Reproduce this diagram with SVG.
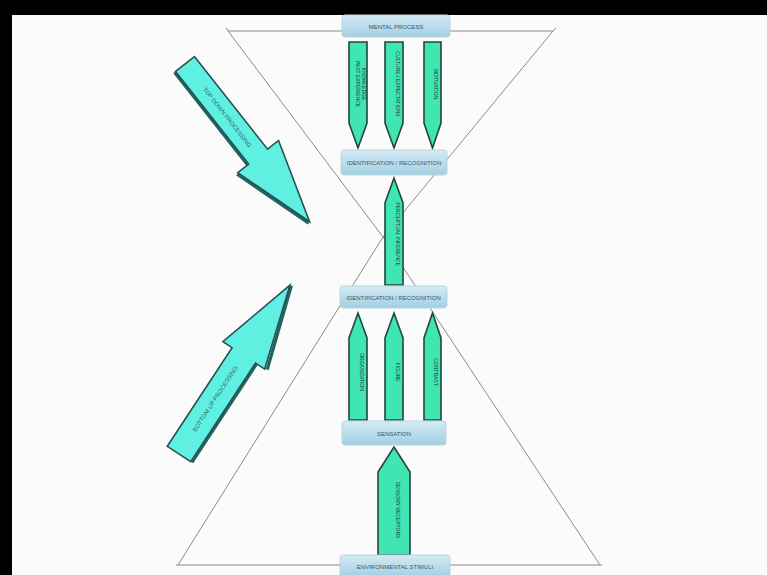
<svg xmlns="http://www.w3.org/2000/svg" width="767" height="575" viewBox="0 0 767 575">
<defs>
<linearGradient id="boxg" x1="0" y1="0" x2="0" y2="1">
<stop offset="0" stop-color="#d4ebf4"/>
<stop offset="1" stop-color="#a2cfe2"/>
</linearGradient>
<style>
.box{fill:url(#boxg);stroke:#b8d6e4;stroke-width:1}
.bt{font-family:"Liberation Sans",Arial,sans-serif;font-size:6px;fill:#3a5468;text-anchor:middle}
.sa{fill:#3fe6b2;stroke:#24453e;stroke-width:1.6;stroke-linejoin:miter}
.st{font-family:"Liberation Sans",Arial,sans-serif;font-size:5px;fill:#1d3a32;text-anchor:middle}
.ba{fill:#5ff0e2;stroke:#2b4f55;stroke-width:1.6}
.bsh{fill:#1f6660}
.at{font-family:"Liberation Sans",Arial,sans-serif;font-size:6px;fill:#2a6470;text-anchor:middle}
.hl{fill:none;stroke:#8a8a8a;stroke-width:1}
</style>
</defs>
<rect x="0" y="0" width="767" height="575" fill="#fbfbfb"/>
<rect x="0" y="0" width="767" height="15" fill="#000"/>
<rect x="0" y="0" width="12" height="575" fill="#000"/>

<g id="hourglass">
<polyline class="hl" points="226,28 228,31 553,31 556,28"/>
<polyline class="hl" points="228,31 383,237 553,31"/>
<polyline class="hl" points="178,565 383,237 600,565"/>
<line class="hl" x1="176" y1="565" x2="602" y2="565"/>
</g>

<g id="connectors">
<g id="top-arrows">
<polygon class="sa" points="349,42 367,42 367,123 358,148 349,123"/>
<text class="st" transform="translate(356,84) rotate(90)">PAST EXPERIENCE</text>
<text class="st" transform="translate(362,84) rotate(90)">KNOWLEDGE</text>
<polygon class="sa" points="385,42 403,42 403,123 394,148 385,123"/>
<text class="st" transform="translate(395.5,84) rotate(90)">CULTURE / EXPECTATIONS</text>
<polygon class="sa" points="424,42 441,42 441,123 432.5,148 424,123"/>
<text class="st" transform="translate(434,84) rotate(90)">MOTIVATION</text>
</g>
<g id="middle-arrow">
<polygon class="sa" points="385,285 403,285 403,203 394,178 385,203"/>
<text class="st" transform="translate(395.5,234) rotate(90)">PERCEPTUAL INFERENCE</text>
</g>
<g id="lower-arrows">
<polygon class="sa" points="349,420 367,420 367,338 358,313 349,338"/>
<text class="st" transform="translate(359.5,372) rotate(90)">ORGANIZATION</text>
<polygon class="sa" points="385,420 403,420 403,338 394,313 385,338"/>
<text class="st" transform="translate(395.5,372) rotate(90)">FIGURE</text>
<polygon class="sa" points="424,420 441,420 441,338 432.5,313 424,338"/>
<text class="st" transform="translate(434,372) rotate(90)">CONTRAST</text>
</g>
<g id="bottom-arrow">
<polygon class="sa" points="378,555 410,555 410,472 394,447 378,472"/>
<text class="st" transform="translate(395.5,510) rotate(90)">SENSORY RECEPTORS</text>
</g>
</g>

<g id="top-down">
<g transform="translate(185,64) rotate(51.7)">
<polygon class="bsh" points="0,12 118,12 118,26 201,0 202,3 119,29 119,15 0,15"/>
<polygon class="ba" points="0,-12 118,-12 118,-26 201,0 118,26 118,12 0,12"/>
<text class="at" x="68" y="2">TOP DOWN PROCESSING</text>
</g>
</g>
<g id="bottom-up">
<g transform="translate(179,454) rotate(-56.7)">
<polygon class="bsh" points="0,14 118,14 118,26 202,0 203,3 119,29 119,17 0,17"/>
<polygon class="ba" points="0,-14 118,-14 118,-25 202,0 118,25 118,14 0,14"/>
<text class="at" x="66" y="2">BOTTOM UP PROCESSING</text>
</g>
</g>

<g id="mental-process">
<rect class="box" x="342" y="15" width="108" height="22" rx="3"/>
<text class="bt" x="396" y="29">MENTAL PROCESS</text>
</g>
<g id="identification-1">
<rect class="box" x="341" y="150" width="106" height="25" rx="3"/>
<text class="bt" x="394" y="165">IDENTIFICATION / RECOGNITION</text>
</g>
<g id="identification-2">
<rect class="box" x="340" y="286" width="107" height="22" rx="3"/>
<text class="bt" x="393.5" y="300">IDENTIFICATION / RECOGNITION</text>
</g>
<g id="sensation">
<rect class="box" x="342" y="421" width="104" height="24" rx="3"/>
<text class="bt" x="394" y="436">SENSATION</text>
</g>
<g id="environmental-stimuli">
<rect class="box" x="340" y="555" width="110" height="22" rx="3"/>
<text class="bt" x="395" y="569">ENVIRONMENTAL STIMULI</text>
</g>
</svg>
